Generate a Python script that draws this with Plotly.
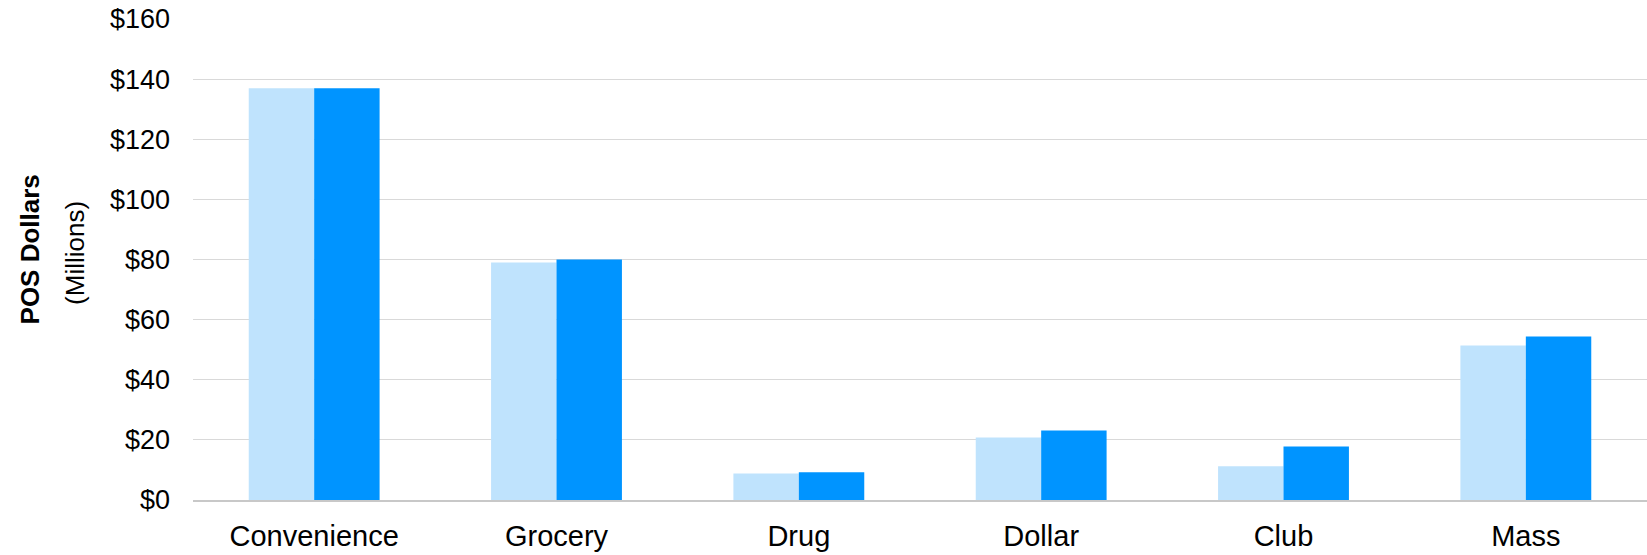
import plotly.graph_objects as go

categories = ["Convenience", "Grocery", "Drug", "Dollar", "Club", "Mass"]
prior_year = [137, 79, 8.8, 20.8, 11.2, 51.4]
current_year = [137, 80, 9.2, 23.1, 17.8, 54.4]
y_ticks = [0, 20, 40, 60, 80, 100, 120, 140, 160]
y_tick_labels = ["$" + str(v) for v in y_ticks]

fig = go.Figure()
fig.add_trace(go.Bar(x=categories, y=prior_year, name="Prior Year",
                     marker=dict(color="#BFE3FD", line=dict(width=0))))
fig.add_trace(go.Bar(x=categories, y=current_year, name="Current Year",
                     marker=dict(color="#0094FF", line=dict(width=0))))

fig.update_layout(
    width=1647, height=555,
    margin=dict(l=193, r=0, t=19, b=55),
    plot_bgcolor="white", paper_bgcolor="white",
    barmode="group", bargap=0.46, bargroupgap=0,
    showlegend=False,
    font=dict(family="Liberation Sans", color="#000000"),
)
fig.update_xaxes(
    showgrid=False, showline=True, linecolor="#c8c8c8", linewidth=2,
    tickfont=dict(family="Liberation Sans", size=29),
    ticks="", ticklabelstandoff=9,
)
fig.update_yaxes(
    range=[0, 160], tickvals=y_ticks, ticktext=y_tick_labels,
    showgrid=True, gridcolor="#d9d9d9", gridwidth=1, zeroline=False,
    tickfont=dict(family="Liberation Sans", size=27),
    ticks="", ticklabelstandoff=22,
)
fig.add_annotation(text="<b>POS Dollars</b>", xref="paper", yref="paper",
                   x=-0.1124, y=0.52, textangle=-90, showarrow=False,
                   font=dict(family="Liberation Sans", size=26), xanchor="center", yanchor="middle")
fig.add_annotation(text="(Millions)", xref="paper", yref="paper",
                   x=-0.0807, y=0.513, textangle=-90, showarrow=False,
                   font=dict(family="Liberation Sans", size=26), xanchor="center", yanchor="middle")

fig.write_html("out.html")
